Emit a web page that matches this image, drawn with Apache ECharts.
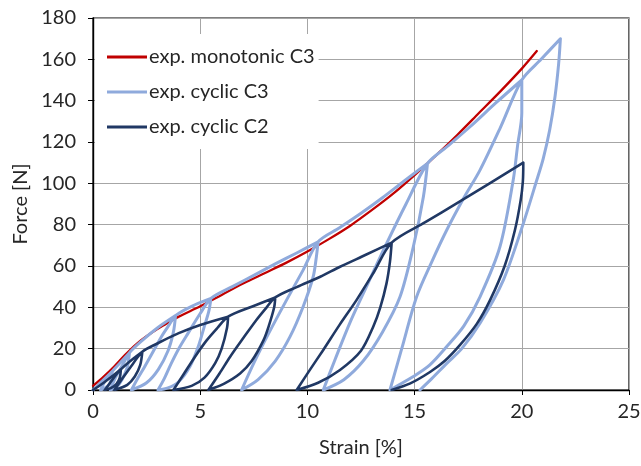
<!DOCTYPE html>
<html>
<head>
<meta charset="utf-8">
<script src="https://cdn.jsdelivr.net/npm/echarts@6/dist/echarts.min.js"></script>
<style>
  html, body { margin: 0; padding: 0; background: #fff; }
  #chart { width: 641px; height: 466px; }
</style>
</head>
<body>
<div id="chart"></div>
<script>
// Axis ticks
const strainTicks = [0, 5, 10, 15, 20, 25];
const forceTicks = [0, 20, 40, 60, 80, 100, 120, 140, 160, 180];

const seriesNames = ['exp. monotonic C3', 'exp. cyclic C3', 'exp. cyclic C2'];

// Monotonic tensile test, specimen C3: [strain %, force N]
const monotonicC3 = [
  [0, 2], [0.5, 6.5], [1, 11.5], [1.5, 17], [2, 22], [2.5, 26], [3, 29.5],
  [3.5, 32.5], [4, 35.5], [5, 40.5], [6, 46], [7, 51.5], [8, 56.5], [9, 61.5],
  [10, 67], [11, 73], [12, 79.5], [13, 87], [14, 95], [15, 104], [16, 113.5],
  [17, 123.5], [18, 134], [19, 144.5], [20, 155.5], [20.7, 164]
];

// Cyclic test, specimen C3 (load / unload / reload path in recorded order)
const cyclicC3 = [
  [0, 0], [0.5, 5], [0.9, 9],
  [0.85, 5], [0.7, 2], [0.35, 0],
  [0.55, 4], [0.9, 9],
  [1.3, 13.5], [1.7, 18],
  [1.6, 11], [1.35, 5], [1.1, 1.5], [0.8, 0],
  [1.05, 6], [1.4, 12.5], [1.7, 18],
  [2.3, 24], [3, 30], [3.85, 36],
  [3.75, 28], [3.5, 19], [3.05, 10], [2.5, 3.5], [1.79, 0],
  [2.05, 5], [2.41, 11.3], [2.8, 18.5], [3.19, 25.8], [3.55, 31.5], [3.85, 36],
  [4.6, 40.5], [5.5, 44.3],
  [5.4, 38], [5.2, 31], [4.91, 21], [4.52, 11.3], [4.0, 4], [3.5, 1], [3.03, 0],
  [3.3, 5], [3.65, 12.9], [4.0, 20], [4.43, 27.4], [5.0, 37], [5.5, 44.3],
  [6.5, 50], [7.5, 55.5], [8.5, 61], [9.5, 66.3], [10.5, 71.7],
  [10.4, 63], [10.27, 54.8], [9.8, 40.3], [9.19, 25.8], [8.5, 14], [7.7, 5], [6.93, 0],
  [7.5, 13], [8.2, 27.5], [9.0, 43], [9.8, 58], [10.5, 71.7],
  [11.5, 78.5], [12.5, 85.5], [13.5, 93], [14.5, 101], [15.6, 109.6],
  [15.41, 93.5], [14.94, 69.3], [14.32, 45.1], [13.5, 28], [12.6, 14], [11.7, 5], [10.74, 0],
  [11.3, 15], [12.0, 33], [12.8, 51], [13.7, 71], [14.6, 90], [15.6, 109.6],
  [16.6, 118.5], [17.6, 127.5], [18.8, 139], [20.0, 150],
  [20.0, 134], [19.8, 118], [19.6, 101.6], [18.98, 69.3], [18.05, 45.1], [17.3, 31],
  [16.5, 21], [15.7, 12], [14.94, 6.5], [13.85, 0],
  [14.4, 20], [15.09, 45], [15.8, 62], [16.5, 77.4], [17.3, 93], [18.05, 106.4],
  [19.0, 127], [20.0, 150],
  [20.9, 160], [21.8, 170],
  [21.72, 158], [21.55, 142], [21.3, 125.8], [21.0, 112], [20.7, 101.6], [20.07, 80.6],
  [19.14, 53.2], [18.05, 32.3], [17.2, 20], [16.5, 12.9], [15.8, 5.5], [15.25, 0]
];

// Cyclic test, specimen C2
const cyclicC2 = [
  [0, 0], [0.5, 3.5], [1.0, 7.5], [1.3, 10],
  [1.25, 6], [1.1, 3], [0.85, 1], [0.55, 0],
  [0.8, 3.5], [1.05, 7], [1.3, 10],
  [1.8, 14.5], [2.3, 18.5],
  [2.2, 12], [1.95, 6.5], [1.6, 2.5], [1.0, 0],
  [1.4, 6], [1.85, 12.5], [2.3, 18.5],
  [3, 22.5], [4, 27.5], [5, 31.5], [6.3, 35.5],
  [6.25, 30], [6.0, 20], [5.7, 13], [5.2, 6], [4.6, 2], [3.75, 0],
  [4.25, 8], [4.75, 16], [5.3, 24], [5.8, 30], [6.3, 35.5],
  [7.4, 40.3], [8.5, 44.8],
  [8.45, 40], [8.2, 31], [7.95, 24], [7.4, 14], [6.86, 8], [6.1, 3], [5.38, 0],
  [5.9, 8], [6.39, 16], [7.0, 25], [7.63, 34], [8.1, 40], [8.5, 44.8],
  [9.5, 49.8], [10.6, 54.8], [11.5, 59.5], [12.7, 65.3], [13.93, 71.3],
  [13.85, 62], [13.69, 51.6], [13.4, 40], [13.07, 30.6], [12.5, 19], [11.52, 9.7],
  [10.5, 3.5], [9.5, 0],
  [10.1, 9.5], [10.74, 19.4], [11.5, 31.5], [12.29, 43.5], [13.1, 57], [13.93, 71.3],
  [15.5, 81.2], [17, 90.5], [18.5, 100], [20.07, 110],
  [20.05, 101], [19.95, 92], [19.68, 77.4], [19.2, 60], [18.52, 43.5], [17.9, 32],
  [17.12, 21.8], [16.4, 14], [15.72, 8.7], [14.8, 3.2], [13.93, 0]
];

const colors = ['#C00000', '#8FAADC', '#203864'];
const widths = [2.3, 3, 2.6];
const dataSets = [monotonicC3, cyclicC3, cyclicC2];

const fontFamily = 'Lato, "Open Sans", sans-serif';
const textColor = '#262626';
const chart = echarts.init(document.getElementById('chart'), null, { renderer: 'canvas' });

chart.setOption({
  animation: false,
  backgroundColor: '#fff',
  grid: {
    left: 93, right: 12, top: 18, bottom: 76,
    outerBoundsMode: 'none',
    containLabel: false,
    show: true, borderColor: '#000', borderWidth: 1.2
  },
  legend: {
    orient: 'vertical',
    left: 95, top: 34,
    padding: [13, 4, 12, 12],
    itemGap: 15,
    itemWidth: 40, itemHeight: 3,
    icon: 'rect',
    backgroundColor: '#fff',
    data: seriesNames,
    textStyle: { fontFamily, fontSize: 20, color: textColor, padding: [0, 0, 0, -3] }
  },
  xAxis: {
    type: 'value',
    min: strainTicks[0], max: strainTicks[strainTicks.length - 1],
    interval: strainTicks[1] - strainTicks[0],
    name: 'Strain [%]', nameLocation: 'middle', nameGap: 48,
    nameTextStyle: { fontFamily, fontSize: 20, color: textColor },
    axisLine: { onZero: false, lineStyle: { color: '#000', width: 1.4 } },
    axisTick: { show: true, length: 5, lineStyle: { color: '#000', width: 1 } },
    axisLabel: { fontFamily, fontSize: 20, color: textColor, margin: 12 },
    splitLine: { show: true, lineStyle: { color: '#A6A6A6', width: 1 } }
  },
  yAxis: {
    type: 'value',
    min: forceTicks[0], max: forceTicks[forceTicks.length - 1],
    interval: forceTicks[1] - forceTicks[0],
    name: 'Force [N]', nameLocation: 'middle', nameGap: 61, nameRotate: 90,
    nameTextStyle: { fontFamily, fontSize: 20, color: textColor },
    axisLine: { onZero: false, lineStyle: { color: '#000', width: 1.4 } },
    axisTick: { show: true, length: 5, lineStyle: { color: '#000', width: 1 } },
    axisLabel: { fontFamily, fontSize: 20, color: textColor, margin: 17 },
    splitLine: { show: true, lineStyle: { color: '#A6A6A6', width: 1 } }
  },
  series: seriesNames.map((name, i) => ({
    name,
    type: 'line',
    data: dataSets[i],
    showSymbol: false,
    symbol: 'none',
    smooth: 0.3,
    clip: true,
    color: colors[i],
    lineStyle: { color: colors[i], width: widths[i], join: 'round', cap: 'round' },
    z: 2 + i
  }))
});
</script>
</body>
</html>
